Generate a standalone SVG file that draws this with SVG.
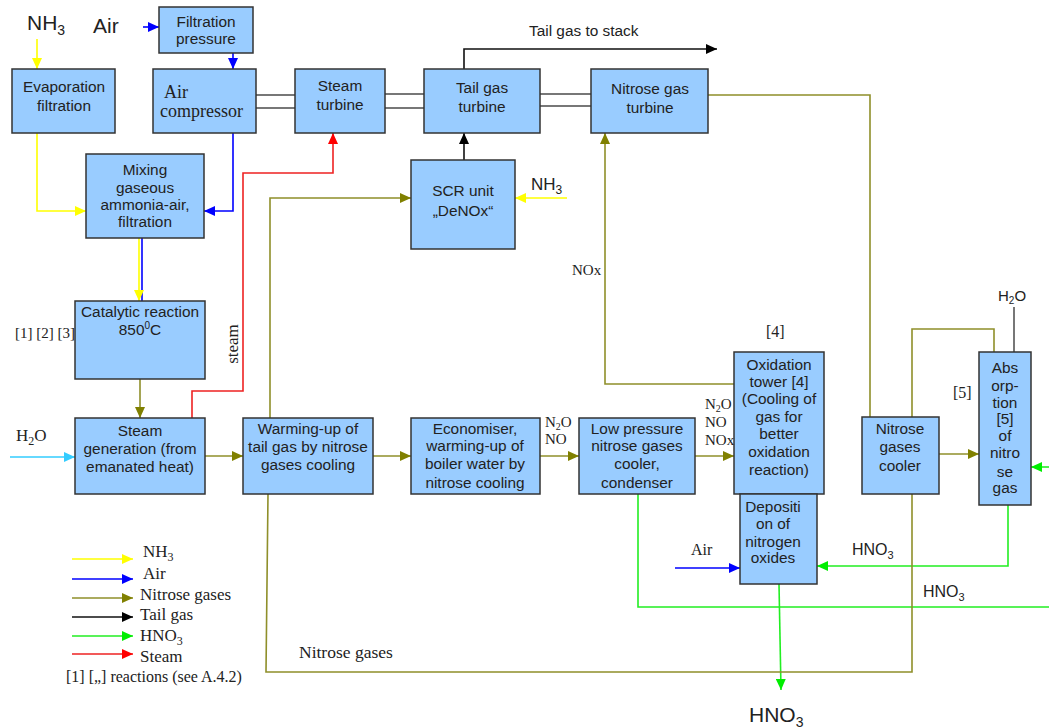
<svg xmlns="http://www.w3.org/2000/svg" width="1049" height="728" viewBox="0 0 1049 728">
<style>
.box{fill:#99ccff;stroke:#333;stroke-width:1.5}
.t{font-family:"Liberation Sans",Arial,sans-serif;font-size:15.4px;fill:#222;text-anchor:middle}
.tm{font-family:"Liberation Serif","Times New Roman",serif;fill:#222}
.ar{font-family:"Liberation Sans",Arial,sans-serif;fill:#222}
.c{fill:none;stroke-width:1.6}
.y{stroke:#ffff00}.b{stroke:#0000ff}.o{stroke:#8f8f2a}.k{stroke:#111}.g{stroke:#22ee22}.r{stroke:#ee2222}.cy{stroke:#33ccff}
.sh{stroke:#777;stroke-width:2}
</style>
<defs>
<marker id="my" markerUnits="userSpaceOnUse" markerWidth="12" markerHeight="10" refX="11" refY="5" orient="auto"><path d="M0,0 L11,5 L0,10 z" fill="#ffff00"/></marker>
<marker id="mb" markerUnits="userSpaceOnUse" markerWidth="12" markerHeight="10" refX="11" refY="5" orient="auto"><path d="M0,0 L11,5 L0,10 z" fill="#0000ff"/></marker>
<marker id="mo" markerUnits="userSpaceOnUse" markerWidth="12" markerHeight="10" refX="11" refY="5" orient="auto"><path d="M0,0 L11,5 L0,10 z" fill="#808000"/></marker>
<marker id="mk" markerUnits="userSpaceOnUse" markerWidth="12" markerHeight="10" refX="11" refY="5" orient="auto"><path d="M0,0 L11,5 L0,10 z" fill="#000"/></marker>
<marker id="mg" markerUnits="userSpaceOnUse" markerWidth="12" markerHeight="10" refX="11" refY="5" orient="auto"><path d="M0,0 L11,5 L0,10 z" fill="#00ee00"/></marker>
<marker id="mr" markerUnits="userSpaceOnUse" markerWidth="12" markerHeight="10" refX="11" refY="5" orient="auto"><path d="M0,0 L11,5 L0,10 z" fill="#ff0000"/></marker>
<marker id="mc" markerUnits="userSpaceOnUse" markerWidth="12" markerHeight="10" refX="11" refY="5" orient="auto"><path d="M0,0 L11,5 L0,10 z" fill="#33ccff"/></marker>
</defs>
<rect width="1049" height="728" fill="#fff"/>

<g id="connectors">
<path class="sh" d="M256,95 H295 M256,108 H295 M385,94 H424 M385,108 H424 M540,94 H591 M540,106 H591"/>
<path class="c y" d="M37,39 V69" marker-end="url(#my)"/>
<path class="c b" d="M143,27 H159" marker-end="url(#mb)"/>
<path class="c b" d="M233,53 V69" marker-end="url(#mb)"/>
<path class="c y" d="M37,133 V211 H86" marker-end="url(#my)"/>
<path class="c b" d="M233,133 V211 H204" marker-end="url(#mb)"/>
<path class="c b" d="M142,238 V301"/>
<path class="c y" d="M139,238 V301" marker-end="url(#my)"/>
<path class="c k" d="M464,69 V49 H717" marker-end="url(#mk)"/>
<path class="c k" d="M464,160 V133" marker-end="url(#mk)"/>
<path class="c y" d="M567,198 H515" marker-end="url(#my)"/>
<path class="c o" d="M270,418 V198 H411" marker-end="url(#mo)"/>
<path class="c r" d="M192,418 V391 H243 V173 H333 V133" marker-end="url(#mr)"/>
<path class="c o" d="M140,379 V418" marker-end="url(#mo)"/>
<path class="c cy" d="M10,457 H75" marker-end="url(#mc)"/>
<path class="c o" d="M205,456 H243" marker-end="url(#mo)"/>
<path class="c o" d="M373,456 H411" marker-end="url(#mo)"/>
<path class="c o" d="M540,456 H579" marker-end="url(#mo)"/>
<path class="c o" d="M695,456 H734" marker-end="url(#mo)"/>
<path class="c o" d="M734,384 H605 V133" marker-end="url(#mo)"/>
<path class="c o" d="M708,95 H870 V417"/>
<path class="c o" d="M939,454 H979" marker-end="url(#mo)"/>
<path class="c o" d="M912,417 V329 H994 V352"/>
<path class="c" stroke="#555" stroke-width="2" d="M1014,307 V352"/>
<path class="c g" d="M1049,467 H1031" marker-end="url(#mg)"/>
<path class="c g" d="M1008,505 V566 H817" marker-end="url(#mg)"/>
<path class="c g" d="M638,494 V607 H1049"/>
<path class="c b" d="M675,568 H740" marker-end="url(#mb)"/>
<path class="c g" d="M779,584 L781,690" marker-end="url(#mg)"/>
<path class="c o" d="M268,494 L266,672 H912 V494"/>
<path class="c y" d="M72,559 H133" marker-end="url(#my)"/>
<path class="c b" d="M72,579 H133" marker-end="url(#mb)"/>
<path class="c o" d="M72,598 H133" marker-end="url(#mo)"/>
<path class="c k" d="M72,617 H133" marker-end="url(#mk)"/>
<path class="c g" d="M72,636 H133" marker-end="url(#mg)"/>
<path class="c r" d="M72,654 H133" marker-end="url(#mr)"/>
</g>

<g id="filtration-pressure"><rect class="box" x="159" y="7" width="94" height="46"/><text class="t" x="206" y="27">Filtration</text><text class="t" x="206" y="44">pressure</text></g>
<g id="evaporation"><rect class="box" x="12" y="69" width="103" height="64"/><text class="t" x="64" y="92">Evaporation</text><text class="t" x="64" y="111">filtration</text></g>
<g id="air-compressor"><rect class="box" x="153" y="69" width="103" height="64"/><text class="tm" font-size="18" x="164" y="98">Air</text><text class="tm" font-size="18" x="160" y="117">compressor</text></g>
<g id="mixing"><rect class="box" x="86" y="154" width="118" height="84"/><text class="t" x="145" y="175">Mixing</text><text class="t" x="145" y="193">gaseous</text><text class="t" x="145" y="210">ammonia-air,</text><text class="t" x="145" y="227">filtration</text></g>
<g id="steam-turbine"><rect class="box" x="295" y="69" width="90" height="64"/><text class="t" x="340" y="91">Steam</text><text class="t" x="340" y="110">turbine</text></g>
<g id="tail-gas-turbine"><rect class="box" x="424" y="69" width="116" height="64"/><text class="t" x="482" y="93">Tail gas</text><text class="t" x="482" y="112">turbine</text></g>
<g id="nitrose-gas-turbine"><rect class="box" x="591" y="69" width="117" height="64"/><text class="t" x="650" y="94">Nitrose gas</text><text class="t" x="650" y="113">turbine</text></g>
<g id="scr-unit"><rect class="box" x="411" y="160" width="104" height="89"/><text class="t" font-size="17.5" x="463" y="196">SCR unit</text><text class="t" font-size="17.5" x="463" y="216">„DeNOx“</text></g>
<g id="catalytic"><rect class="box" x="75" y="301" width="130" height="78"/><text class="t" x="140" y="317">Catalytic reaction</text><text class="t" x="140" y="335">850<tspan font-size="10" dy="-6">0</tspan><tspan dy="6">C</tspan></text></g>
<g id="steam-generation"><rect class="box" x="75" y="418" width="130" height="76"/><text class="t" x="140" y="436">Steam</text><text class="t" x="140" y="454">generation (from</text><text class="t" x="140" y="472">emanated heat)</text></g>
<g id="warming-up"><rect class="box" x="243" y="418" width="130" height="76"/><text class="t" x="308" y="434">Warming-up of</text><text class="t" x="308" y="452">tail gas by nitrose</text><text class="t" x="308" y="470">gases cooling</text></g>
<g id="economiser"><rect class="box" x="411" y="418" width="129" height="76"/><text class="t" x="475" y="434">Economiser,</text><text class="t" x="475" y="451">warming-up of</text><text class="t" x="475" y="469">boiler water by</text><text class="t" x="475" y="488">nitrose cooling</text></g>
<g id="low-pressure-cooler"><rect class="box" x="579" y="418" width="116" height="76"/><text class="t" x="637" y="434">Low pressure</text><text class="t" x="637" y="451">nitrose gases</text><text class="t" x="637" y="469">cooler,</text><text class="t" x="637" y="488">condenser</text></g>
<g id="oxidation-tower"><rect class="box" x="734" y="352" width="90" height="142"/><text class="t" x="779" y="370">Oxidation</text><text class="t" x="779" y="387">tower [4]</text><text class="t" x="779" y="404">(Cooling of</text><text class="t" x="779" y="422">gas for</text><text class="t" x="779" y="439">better</text><text class="t" x="779" y="457">oxidation</text><text class="t" x="779" y="475">reaction)</text></g>
<g id="deposition"><rect class="box" x="740" y="494" width="77" height="90"/><text class="t" x="773" y="512">Depositi</text><text class="t" x="773" y="529">on of</text><text class="t" x="773" y="547">nitrogen</text><text class="t" x="773" y="563">oxides</text></g>
<g id="nitrose-gases-cooler"><rect class="box" x="862" y="417" width="77" height="77"/><text class="t" x="900" y="434">Nitrose</text><text class="t" x="900" y="452">gases</text><text class="t" x="900" y="471">cooler</text></g>
<g id="absorption"><rect class="box" x="979" y="352" width="52" height="153"/><text class="t" x="1005" y="373">Abs</text><text class="t" x="1005" y="391">orp-</text><text class="t" x="1005" y="408">tion</text><text class="t" x="1005" y="424">[5]</text><text class="t" x="1005" y="441">of</text><text class="t" x="1005" y="458">nitro</text><text class="t" x="1005" y="477">se</text><text class="t" x="1005" y="493">gas</text></g>

<g id="labels">
<text class="ar" font-size="21" x="27" y="30">NH<tspan font-size="14" dy="5">3</tspan></text>
<text class="ar" font-size="21" x="93" y="33">Air</text>
<text class="ar" font-size="15.4" x="529" y="36">Tail gas to stack</text>
<text class="ar" font-size="17" x="531" y="190">NH<tspan font-size="12" dy="4">3</tspan></text>
<text class="tm" font-size="17" transform="translate(238,344) rotate(-90)" text-anchor="middle">steam</text>
<text class="tm" font-size="15" x="15" y="338">[1] [2] [3]</text>
<text class="tm" font-size="17" x="16" y="441">H<tspan font-size="12" dy="4">2</tspan><tspan dy="-4">O</tspan></text>
<text class="tm" font-size="15" x="545" y="427">N<tspan font-size="10" dy="3">2</tspan><tspan dy="-3">O</tspan></text>
<text class="tm" font-size="15" x="545" y="444">NO</text>
<text class="tm" font-size="15" x="705" y="409">N<tspan font-size="10" dy="3">2</tspan><tspan dy="-3">O</tspan></text>
<text class="tm" font-size="15" x="705" y="427">NO</text>
<text class="tm" font-size="15" x="705" y="445">NOx</text>
<text class="tm" font-size="15" x="572" y="275">NOx</text>
<text class="tm" font-size="16" x="766" y="337">[4]</text>
<text class="tm" font-size="16" x="953" y="398">[5]</text>
<text class="ar" font-size="15" x="998" y="301">H<tspan font-size="10" dy="3">2</tspan><tspan dy="-3">O</tspan></text>
<text class="tm" font-size="16" x="691" y="555">Air</text>
<text class="ar" font-size="16" x="852" y="555">HNO<tspan font-size="11" dy="4">3</tspan></text>
<text class="ar" font-size="16" x="923" y="597">HNO<tspan font-size="11" dy="4">3</tspan></text>
<text class="ar" font-size="21" x="749" y="722">HNO<tspan font-size="14" dy="5">3</tspan></text>
<text class="tm" font-size="17.5" x="299" y="658">Nitrose gases</text>
</g>

<g id="legend">
<text class="tm" font-size="17" x="143" y="557">NH<tspan font-size="12" dy="4">3</tspan></text>
<text class="tm" font-size="17" x="143" y="579">Air</text>
<text class="tm" font-size="17" x="140" y="600">Nitrose gases</text>
<text class="tm" font-size="17" x="140" y="620">Tail gas</text>
<text class="tm" font-size="17" x="140" y="641">HNO<tspan font-size="12" dy="4">3</tspan></text>
<text class="tm" font-size="17" x="140" y="662">Steam</text>
<text class="tm" font-size="16" x="66" y="682">[1] [„] reactions (see A.4.2)</text>
</g>
</svg>
